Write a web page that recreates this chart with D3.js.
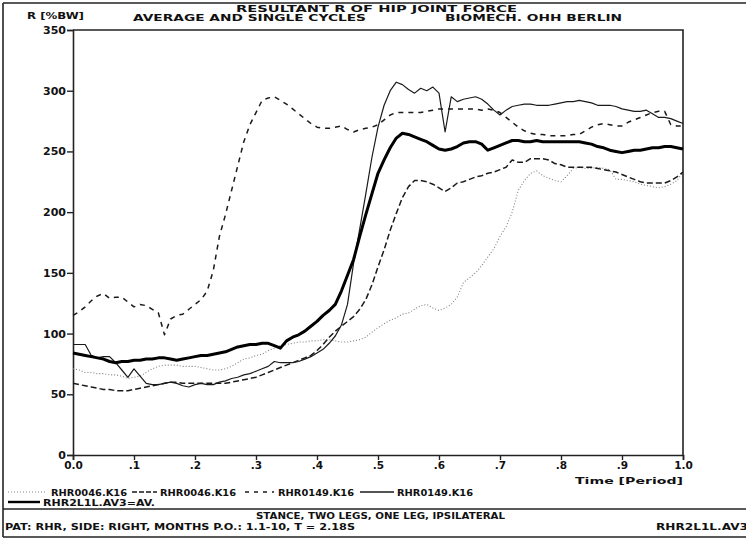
<!DOCTYPE html>
<html><head><meta charset="utf-8">
<script src="https://cdn.jsdelivr.net/npm/d3@7/dist/d3.min.js"></script>
<style>
html,body{margin:0;padding:0;background:#fff;}
svg{display:block;}
text{font-family:"DejaVu Sans",sans-serif;font-weight:bold;fill:#111;}
</style></head>
<body>
<script>
// ---- data ----
const timeSteps = [0.00,0.01,0.02,0.03,0.04,0.05,0.06,0.07,0.08,0.09,0.10,0.11,0.12,0.13,0.14,0.15,0.16,0.17,0.18,0.19,0.20,0.21,0.22,0.23,0.24,0.25,0.26,0.27,0.28,0.29,0.30,0.31,0.32,0.33,0.34,0.35,0.36,0.37,0.38,0.39,0.40,0.41,0.42,0.43,0.44,0.45,0.46,0.47,0.48,0.49,0.50,0.51,0.52,0.53,0.54,0.55,0.56,0.57,0.58,0.59,0.60,0.61,0.62,0.63,0.64,0.65,0.66,0.67,0.68,0.69,0.70,0.71,0.72,0.73,0.74,0.75,0.76,0.77,0.78,0.79,0.80,0.81,0.82,0.83,0.84,0.85,0.86,0.87,0.88,0.89,0.90,0.91,0.92,0.93,0.94,0.95,0.96,0.97,0.98,0.99,1.00];

// RHR0046.K16 (dotted)
const rhr0046Dotted = [71,70,68,68,67,67,66,66,65,63,64,65,68,71,73,74,74,74,73,73,73,72,71,70,70,71,73,76,79,80,82,83,86,88,90,91,92,93,93,94,94,95,95,94,93,93,94,95,97,101,105,108,111,113,116,117,120,123,124,121,119,121,124,130,142,146,150,156,163,170,180,188,200,218,226,232,234,230,228,226,225,230,236,237,236,236,237,236,235,227,227,226,225,223,222,221,220,221,223,226,233];
// RHR0046.K16 (dense dashes)
const rhr0046Dashed = [59,58,57,56,55,54,54,53,53,53,54,55,56,57,58,59,60,60,59,59,59,59,59,59,59,59,60,61,62,63,64,66,68,70,72,74,76,78,80,82,86,91,97,102,106,110,114,120,128,140,155,169,185,199,212,221,226,226,225,223,220,217,220,224,225,227,229,230,232,233,235,237,243,241,241,244,244,244,243,240,239,237,237,237,237,237,236,235,234,233,231,229,227,225,224,224,224,224,226,229,233];
// RHR0149.K16 (spaced dashes)
const rhr0149Dashed = [115,118,122,127,131,133,129,130,130,126,122,124,123,120,117,99,112,115,116,120,124,128,135,152,180,198,218,238,258,272,282,292,294,295,292,289,285,281,277,273,270,269,269,270,271,268,266,268,269,270,272,276,280,282,282,282,282,282,283,284,285,285,285,285,285,285,285,284,285,284,282,278,274,270,267,265,264,264,263,263,263,263,264,264,267,270,272,273,272,271,271,274,276,278,280,282,283,283,272,271,271];
// RHR0149.K16 (thin solid)
const rhr0149Solid = [91,91,91,82,80,81,81,76,70,64,71,65,59,58,58,59,60,59,57,56,58,59,58,58,60,61,63,64,66,67,69,71,73,77,76,76,76,77,79,81,84,87,92,98,107,124,158,186,215,245,270,288,300,307,305,301,298,302,300,303,298,266,295,291,293,294,295,293,289,284,280,284,287,288,289,289,288,288,288,289,290,291,291,292,291,290,288,288,288,287,285,284,283,283,284,281,278,278,277,275,273];
// RHR2L1L.AV3 = AV. (thick solid)
const averageSeries = [84,83,82,81,80,79,77,76,77,77,78,78,79,79,80,80,79,78,79,80,81,82,82,83,84,85,87,89,90,91,91,92,92,90,88,94,97,99,102,106,110,115,119,124,135,148,161,180,198,215,232,243,253,261,265,264,262,260,258,255,252,251,252,254,257,258,258,256,251,253,255,257,259,259,258,258,259,258,258,258,258,258,258,258,257,256,254,253,251,250,249,250,251,251,252,253,253,254,254,253,252];

const yTicks = [0,50,100,150,200,250,300,350];
const xTicks = [0,0.1,0.2,0.3,0.4,0.5,0.6,0.7,0.8,0.9,1.0];
const xTickLabels = ["0.0",".1",".2",".3",".4",".5",".6",".7",".8",".9","1.0"];

const legendNames = ["RHR0046.K16","RHR0046.K16","RHR0149.K16","RHR0149.K16","RHR2L1L.AV3=AV."];

const titleLine1 = "RESULTANT R OF HIP JOINT FORCE";
const titleLine2a = "AVERAGE AND SINGLE CYCLES";
const titleLine2b = "BIOMECH. OHH BERLIN";
const yAxisTitle = "R [%BW]";
const xAxisTitle = "Time [Period]";
const footer1 = "STANCE, TWO LEGS, ONE LEG, IPSILATERAL";
const footer2 = "PAT: RHR, SIDE: RIGHT, MONTHS P.O.: 1.1-10, T = 2.18S";
const footerRight = "RHR2L1L.AV3";

// ---- drawing ----
const W = 746, H = 539;
const svg = d3.select("body").append("svg").attr("width", W).attr("height", H);

const x = d3.scaleLinear().domain([0,1]).range([73,683]);
const y = d3.scaleLinear().domain([0,350]).range([455,30]);

// outer frame
const frame = svg.append("g").attr("stroke","#222").attr("stroke-width",1.6).attr("fill","none");
frame.append("line").attr("x1",3).attr("x2",W).attr("y1",3).attr("y2",3);
frame.append("line").attr("x1",3).attr("x2",3).attr("y1",3).attr("y2",537);
frame.append("line").attr("x1",3).attr("x2",W).attr("y1",509).attr("y2",509);
frame.append("line").attr("x1",3).attr("x2",W).attr("y1",537).attr("y2",537);

function txt(s, x0, yb, len, anchor, size){
  const t = svg.append("text").attr("x", x0).attr("y", yb).text(s)
     .style("font-size", (size||10)+"px");
  if (anchor) t.attr("text-anchor", anchor);
  if (len) t.attr("textLength", len).attr("lengthAdjust","spacingAndGlyphs");
  return t;
}

// titles
txt(titleLine1, 236, 11.5, 281, null, 9);
txt(titleLine2a, 133, 20.5, 233, null, 9);
txt(titleLine2b, 445, 20.5, 177, null, 9);
txt(yAxisTitle, 27, 19, 57, null, 9);

// axes
const yAxis = d3.axisLeft(y).tickValues(yTicks).tickSize(6).tickPadding(1).tickFormat(d3.format("d"));
const gy = svg.append("g").attr("transform","translate(73,0)").call(yAxis);
gy.select(".domain").attr("stroke","#222").attr("stroke-width",1.6);
gy.selectAll(".tick line").attr("stroke","#222").attr("stroke-width",1.4);
gy.selectAll(".tick text").style("font-size","11px").style("font-family","DejaVu Sans").style("font-weight","bold").attr("fill","#111");

const xAxis = d3.axisBottom(x).tickValues(xTicks).tickSize(5).tickPadding(2)
  .tickFormat((d,i)=>xTickLabels[i]);
const gx = svg.append("g").attr("transform","translate(0,455)").call(xAxis);
gx.select(".domain").attr("stroke","#222").attr("stroke-width",1.6);
gx.selectAll(".tick line").attr("stroke","#222").attr("stroke-width",1.4);
gx.selectAll(".tick text").style("font-size","10.5px").style("font-family","DejaVu Sans").style("font-weight","bold").attr("fill","#111");

// plot frame top/right
svg.append("path").attr("d", `M${x(0)},${y(350)}H${x(1)}V${y(0)}`)
  .attr("fill","none").attr("stroke","#222").attr("stroke-width",1.6);

txt(xAxisTitle, 683, 484, 108, "end", 9.5);

// series
const styles = [
  {data: rhr0046Dotted, stroke:"#808080", width:1.1, dash:"1,2"},
  {data: rhr0046Dashed, stroke:"#1a1a1a", width:1.5, dash:"6,3"},
  {data: rhr0149Dashed, stroke:"#1a1a1a", width:1.5, dash:"5,5"},
  {data: rhr0149Solid,  stroke:"#1a1a1a", width:1.2, dash:null},
  {data: averageSeries, stroke:"#000",    width:3.0, dash:null}
];
const line = d3.line().x((d,i)=>x(timeSteps[i])).y(d=>y(d));
styles.forEach(s=>{
  const p = svg.append("path").datum(s.data).attr("d", line)
    .attr("fill","none").attr("stroke", s.stroke).attr("stroke-width", s.width)
    .attr("stroke-linejoin","round");
  if (s.dash) p.attr("stroke-dasharray", s.dash);
});

// legend
const legendPos = [
  {lx1:8,  lx2:47,  ty:492, tx:51,  tl:76},
  {lx1:132,lx2:157, ty:492, tx:160, tl:76},
  {lx1:245,lx2:274, ty:492, tx:278, tl:76},
  {lx1:360,lx2:394, ty:492, tx:397, tl:76},
  {lx1:8,  lx2:40,  ty:502, tx:43,  tl:112}
];
legendPos.forEach((p,i)=>{
  const s = styles[i];
  const l = svg.append("line").attr("x1",p.lx1).attr("x2",p.lx2).attr("y1",p.ty).attr("y2",p.ty)
    .attr("stroke", s.stroke).attr("stroke-width", i===4?2.4:(i===0?1:1.5));
  if (s.dash) l.attr("stroke-dasharray", i===1?"5,2":(i===2?"4,5":s.dash));
  txt(legendNames[i], p.tx, p.ty+3.5, p.tl, null, 8.5);
});

// footer
txt(footer1, 256, 519, 249, null, 9);
txt(footer2, 5, 530, 350, null, 9);
txt(footerRight, 656, 530, 92, null, 9);
</script>
</body></html>
